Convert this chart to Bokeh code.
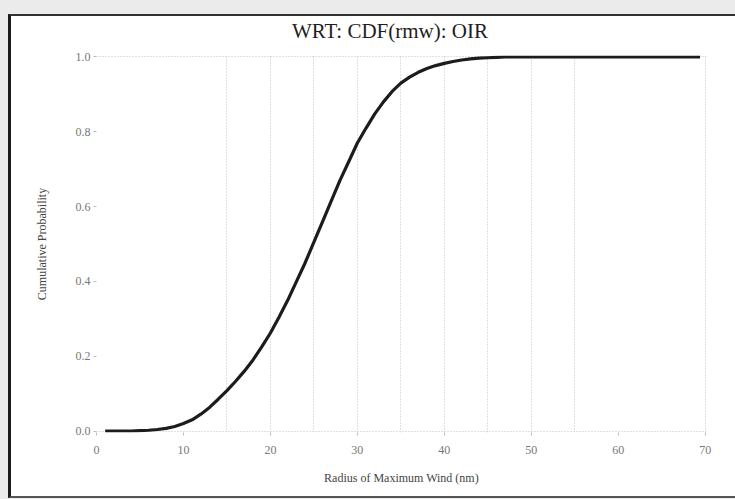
from bokeh.plotting import figure
from bokeh.models import FixedTicker, ColumnDataSource, Div
from bokeh.layouts import column
from bokeh.embed import file_html
from bokeh.resources import INLINE

# Cumulative distribution of the radius of maximum wind (nm)
rmw_nm = [1, 2, 3, 4, 5, 6, 7, 8, 9, 10, 11, 12, 13, 14, 15, 16, 17, 18, 19, 20,
          21, 22, 23, 24, 25, 26, 27, 28, 29, 30, 31, 32, 33, 34, 35, 36, 37, 38,
          39, 40, 41, 42, 43, 44, 45, 46, 47, 50, 55, 60, 65, 69.4]
cum_prob = [0.0, 0.0, 0.0, 0.0, 0.001, 0.002, 0.004, 0.007, 0.012, 0.02, 0.03,
            0.045, 0.063, 0.085, 0.108, 0.133, 0.16, 0.19, 0.225, 0.262, 0.305,
            0.35, 0.40, 0.45, 0.505, 0.56, 0.615, 0.67, 0.72, 0.77, 0.81, 0.848,
            0.88, 0.908, 0.93, 0.946, 0.959, 0.969, 0.977, 0.983, 0.988, 0.992,
            0.995, 0.997, 0.998, 0.999, 1.0, 1.0, 1.0, 1.0, 1.0, 1.0]

x_ticks = [0, 10, 20, 30, 40, 50, 60, 70]
y_ticks = [0.0, 0.2, 0.4, 0.6, 0.8, 1.0]
x_grid = [15, 20, 25, 30, 35, 40, 45, 50, 55, 70]
y_grid = [0.0, 1.0]

chart_title = "WRT: CDF(rmw): OIR"

SERIF = "Liberation Serif"

# title as an HTML block above the canvas so it can sit well clear of the frame
title_div = Div(text=chart_title, width=729, height=31, margin=0,
                styles={"font-family": SERIF, "font-size": "21px",
                        "line-height": "21px", "color": "#1e1e1e",
                        "padding-top": "5px", "padding-left": "281px",
                        "background-color": "white", "box-sizing": "border-box",
                        "white-space": "nowrap"})

# ranges padded a hair so the edge grid lines at 0, 1 and 70 stay inside the frame
p = figure(width=729, height=449, x_range=(0, 70.15), y_range=(-0.004, 1.004),
           output_backend="svg", toolbar_location=None,
           min_border_left=85, min_border_right=34,
           min_border_top=8, min_border_bottom=64)

p.outline_line_color = None
p.background_fill_color = "white"
p.border_fill_color = "white"

src = ColumnDataSource(dict(x=rmw_nm, y=cum_prob))
p.line("x", "y", source=src, line_color="#1c1c1c", line_width=3.2)

p.xaxis.ticker = FixedTicker(ticks=x_ticks)
p.yaxis.ticker = FixedTicker(ticks=y_ticks)
p.yaxis.major_label_overrides = {t: f"{t:.1f}" for t in y_ticks}
for ax in (p.xaxis, p.yaxis):
    ax.axis_line_color = None
    ax.major_tick_line_color = "#bbbbbb"
    ax.major_tick_in = 0
    ax.major_tick_out = 3
    ax.minor_tick_line_color = None
    ax.major_label_text_font = SERIF
    ax.major_label_text_font_size = "12px"
    ax.major_label_text_color = "#777777"
    ax.axis_label_text_font = SERIF
    ax.axis_label_text_font_size = "12px"
    ax.axis_label_text_font_style = "normal"
    ax.axis_label_text_color = "#444444"

p.xaxis.axis_label = "Radius of Maximum Wind (nm)"
p.yaxis.axis_label = "Cumulative Probability"
p.xaxis.major_label_standoff = 10
p.yaxis.major_label_standoff = 3
p.xaxis.axis_label_standoff = 14
p.yaxis.axis_label_standoff = 24

p.xgrid.ticker = FixedTicker(ticks=x_grid)
p.ygrid.ticker = FixedTicker(ticks=y_grid)
for g in (p.xgrid, p.ygrid):
    g.grid_line_color = "#c0c0c0"
    g.grid_line_dash = "1 2"
    g.grid_line_width = 1

panel = column(title_div, p, spacing=0, margin=(14, 0, 0, 8),
               styles={"border-top": "2px solid #333",
                       "border-left": "3px solid #1a1a1a",
                       "border-bottom": "2px solid #555",
                       "background-color": "white"})

page = column(panel, width=735, height=499,
              styles={"background-color": "#ebebeb"})

open("out.html", "w").write(file_html(page, INLINE))
